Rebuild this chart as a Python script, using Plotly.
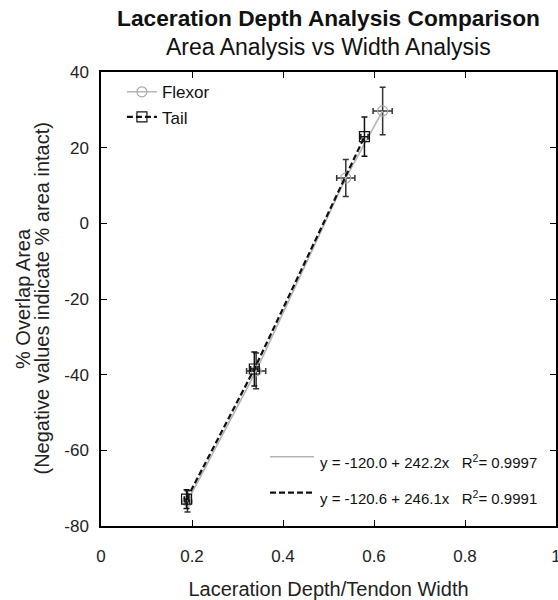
import plotly.graph_objects as go

# ---- data ----
flexor_x = [0.190, 0.341, 0.538, 0.619]
flexor_y = [-73.5, -39.0, 12.0, 29.7]
flexor_xerr = [0.005, 0.021, 0.020, 0.021]
flexor_yerr = [2.8, 4.7, 4.9, 6.3]

tail_x = [0.188, 0.337, 0.579]
tail_y = [-72.9, -38.5, 22.9]
tail_xerr = [0.005, 0.008, 0.008]
tail_yerr = [2.5, 4.5, 5.2]

x_ticks = [0, 0.2, 0.4, 0.6, 0.8, 1]
x_ticktext = ["0", "0.2", "0.4", "0.6", "0.8", "1"]
y_ticks = [-80, -60, -40, -20, 0, 20, 40]
y_ticktext = ["-80", "-60", "-40", "-20", "0", "20", "40"]

y_title_lines = ["% Overlap Area", "(Negative values indicate % area intact)"]
fit_labels = ["y = -120.0 + 242.2x   R<sup>2</sup>= 0.9997",
              "y = -120.6 + 246.1x   R<sup>2</sup>= 0.9991"]

FONT = "Arial, 'Liberation Sans', sans-serif"
W, H = 558, 600
L, R, T, B = 101, 2, 72, 74
PW, PH = W - L - R, H - T - B
TAIL_DASH = "6px,3px"

fig = go.Figure()

fig.add_trace(go.Scatter(
    x=flexor_x, y=flexor_y, name="Flexor", mode="lines+markers",
    line=dict(color="#b4b4b4", width=1.6),
    marker=dict(symbol="circle-open", size=10, color="#a8a8a8", line=dict(width=1.2)),
    error_x=dict(type="data", array=flexor_xerr, color="#333333", thickness=1.5, width=3),
    error_y=dict(type="data", array=flexor_yerr, color="#333333", thickness=1.5, width=3),
))

fig.add_trace(go.Scatter(
    x=tail_x, y=tail_y, name="Tail", mode="lines+markers",
    line=dict(color="#111111", width=2.2, dash=TAIL_DASH),
    marker=dict(symbol="square-open", size=10, color="#111111", line=dict(width=1.2)),
    error_x=dict(type="data", array=tail_xerr, color="#111111", thickness=1.5, width=3),
    error_y=dict(type="data", array=tail_yerr, color="#111111", thickness=1.5, width=3),
))

axis_common = dict(
    showline=True, linecolor="black", linewidth=1.5, mirror="ticks",
    ticks="inside", ticklen=6, tickwidth=1.3, tickcolor="black",
    showgrid=False, zeroline=False, automargin=False, ticklabeloverflow="allow",
    tickfont=dict(family=FONT, size=17, color="#222222"),
)

fig.update_layout(
    width=W, height=H,
    margin=dict(l=L, r=R, t=T, b=B, pad=0),
    paper_bgcolor="white", plot_bgcolor="white",
    font=dict(family=FONT, color="#111111"),
    showlegend=True,
    legend=dict(x=0.046, y=0.995, xanchor="left", yanchor="top",
                bgcolor="rgba(0,0,0,0)", font=dict(family=FONT, size=17, color="#111111"),
                tracegroupgap=0, itemwidth=30),
    title=dict(text="<b>Laceration Depth Analysis Comparison</b>",
               x=0.5, xref="paper", xanchor="center",
               y=1 - 18 / H, yref="container", yanchor="middle",
               font=dict(family=FONT, size=22.7, color="#111111")),
)

fig.update_xaxes(range=[0, 1], tickvals=x_ticks, ticktext=x_ticktext, ticklabelstandoff=14,
                 **axis_common,
                 title=dict(text="Laceration Depth/Tendon Width",
                            font=dict(family=FONT, size=20, color="#222222"), standoff=20))
fig.update_yaxes(range=[-80, 40], tickvals=y_ticks, ticktext=y_ticktext, ticklabelstandoff=7,
                 **axis_common)

# y-axis title (two tightly spaced lines)
for txt, cx in zip(y_title_lines, [23, 41.5]):
    fig.add_annotation(text=txt, xref="paper", yref="paper", x=0, y=0.5,
                       xshift=cx - L, textangle=-90, xanchor="center", yanchor="middle",
                       showarrow=False, font=dict(family=FONT, size=20, color="#222222"))

# subtitle
fig.add_annotation(text="Area Analysis vs Width Analysis", xref="paper", yref="paper",
                   x=0.5, y=1, yshift=T - 47, xanchor="center", yanchor="middle", showarrow=False,
                   font=dict(family=FONT, size=23, color="#111111"))

# regression fit key (bottom right)
fit_styles = [dict(color="#b4b4b4", width=1.6, dash="solid"),
              dict(color="#111111", width=2.2, dash=TAIL_DASH)]
fit_line_px = [456.7, 492.7]
fit_text_px = [461, 497]
for lbl, sty, ly, ty in zip(fit_labels, fit_styles, fit_line_px, fit_text_px):
    yl = 1 - (ly - T) / PH
    fig.add_shape(type="line", xref="paper", yref="paper",
                  x0=(270 - L) / PW, x1=(314 - L) / PW, y0=yl, y1=yl, line=sty)
    fig.add_annotation(text=lbl, xref="paper", yref="paper", x=(318 - L) / PW,
                       y=1 - (ty - T) / PH,
                       xanchor="left", yanchor="middle", showarrow=False,
                       font=dict(family=FONT, size=15, color="#111111"))

fig.write_html("out.html", config={"displayModeBar": False},
               post_script="document.body.style.margin='0';")
